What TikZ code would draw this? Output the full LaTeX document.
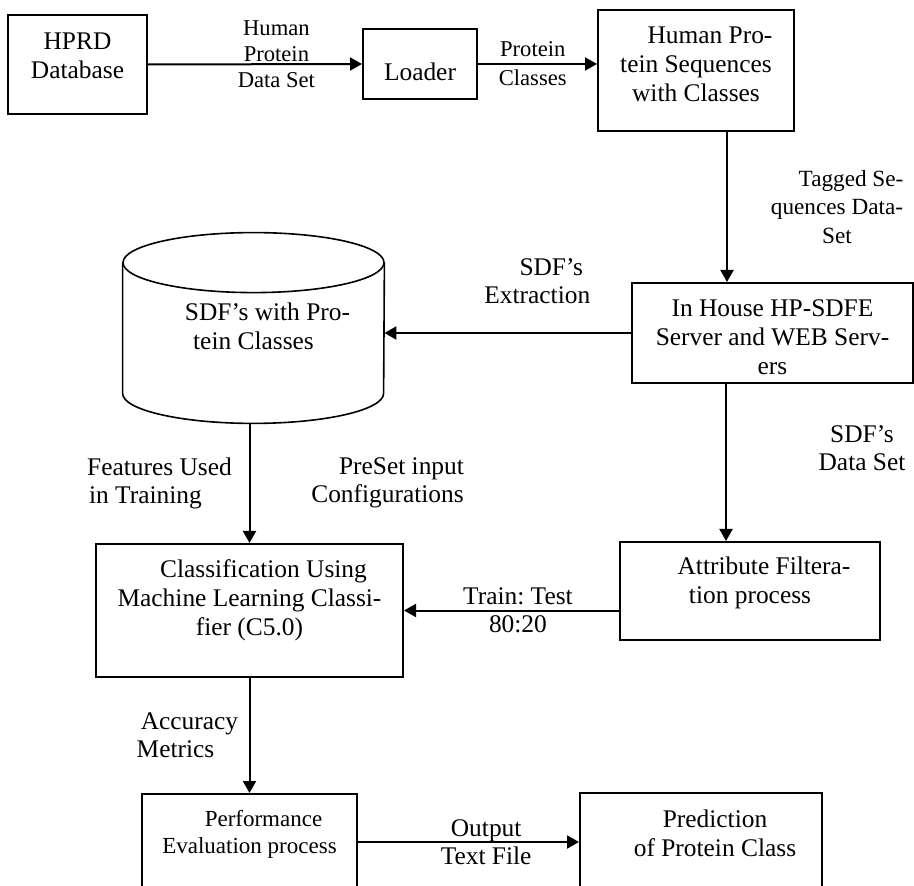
\documentclass[tikz,border=0pt]{standalone}
\usepackage{fontspec}
\setmainfont{Liberation Serif}
\usetikzlibrary{arrows.meta,positioning}

% box text: a centred block lifted by #1, the box keeps its size
\newcommand{\boxtext}[2]{\raisebox{#1}[\height][\depth]{\begin{tabular}{@{}c@{}}#2\end{tabular}}}
\newcommand{\ind}{\hspace*{14pt}}

\begin{document}
\begin{tikzpicture}[x=0.5pt, y=-0.5pt,
    font=\fontsize{12.7}{14.5}\selectfont,
    box/.style={rectangle, draw, line width=1pt, inner sep=0pt},
    lbl/.style={align=center, inner sep=0pt, font=\fontsize{12.7}{14}\selectfont},
    flow/.style={->, line width=1pt},
    drumcap/.style={x radius=65.25pt, y radius=15pt},
    >={Triangle[length=6pt, width=6.5pt]}]
    \clip (0,0) rectangle (914,886);

    % boxes
    \node[box, minimum width=69.5pt, minimum height=49.5pt] (hprd) at (77.5,64.5) {\boxtext{2.9pt}{HPRD\\Database}};
    \node[box, minimum width=57pt, minimum height=35pt] (loader) at (420,64) {\boxtext{-5.4pt}{Loader}};
    \node[box, minimum width=98pt, minimum height=60.5pt] (humanseq) at (696,70.5) {\boxtext{1.9pt}{\ind Human Pro-\\tein Sequences\\with Classes}};
    \node[box, minimum width=140.5pt, minimum height=50pt] (hpsdfe) at (772.5,333) {\boxtext{-3.2pt}{In House HP-SDFE\\Server and WEB Serv-\\ers}};
    \node[box, minimum width=153.5pt, minimum height=66.5pt] (classif) at (249.5,610.5) {\boxtext{4.7pt}{\ind Classification Using\\Machine Learning Classi-\\fier (C5.0)}};
    \node[box, minimum width=130pt, minimum height=49pt] (attrib) at (750,591) {\boxtext{3.9pt}{\ind Attribute Filtera-\\tion process}};
    \node[box, minimum width=107.5pt, minimum height=48pt, font=\fontsize{11.5}{13.3}\selectfont] (perf) at (249.5,842) {\boxtext{3.8pt}{\ind Performance\\Evaluation process}};
    \node[box, minimum width=121pt, minimum height=49pt] (pred) at (701,842) {\boxtext{3pt}{\ind Prediction\\\ind of Protein Class}};

    % data store: a plain node, with the drum outline drawn round it
    \node[inner sep=0pt, minimum width=130.5pt, minimum height=95pt] (sdf) at (253.5,328) {\boxtext{-0.4pt}{\ind SDF's with Pro-\\tein Classes}};
    \draw[line width=0.8pt] ([yshift=-15pt]sdf.north) ellipse [drumcap];
    \draw[line width=0.8pt] ([yshift=-15pt]sdf.north west) -- ([yshift=15pt]sdf.south west)
        arc [start angle=180, end angle=360, drumcap] -- ([yshift=-15pt]sdf.north east);

    % connectors
    \draw[flow] (hprd.east) -- node[lbl, pos=0.6, yshift=5pt, font=\fontsize{11.3}{13.2}\selectfont] (hpdata) {Human\\Protein\\Data Set} (loader.west);
    \draw[flow] (loader.east) -- node[lbl, pos=0.46, font=\fontsize{11.3}{14.5}\selectfont] (pclass) {Protein\\Classes} (loader.east -| humanseq.west);
    \draw[flow] ([xshift=15.5pt]humanseq.south) -- node[lbl, midway, xshift=55pt, font=\fontsize{11.6}{14.2}\selectfont] (tagged) {\ind Tagged Se-\\quences Data-\\Set} ([xshift=15.5pt]humanseq.south |- hpsdfe.north);
    \draw[flow] (hpsdfe.west) -- node[lbl, pos=0.38, yshift=26pt] (extract) {\ind SDF's\\Extraction} (hpsdfe.west -| sdf.east);
    \draw[flow] ([xshift=-12pt]attrib.north |- hpsdfe.south) -- node[lbl, pos=0.41, xshift=68pt] (sdfdata) {SDF's\\Data Set} ([xshift=-12pt]attrib.north);
    \draw[flow] (classif.north |- sdf.south) -- node[lbl, midway, xshift=-52pt] (features) {\ind Features Used\\in Training}
        node[lbl, midway, xshift=69pt] (preset) {\ind PreSet input\\Configurations} (classif.north);
    \draw[flow] (attrib.west |- classif.east) -- node[lbl, pos=0.47] (split) {Train:\ Test\\80:20} (classif.east);
    \draw[flow] (classif.south) -- node[lbl, midway, xshift=-37pt] (acc) {\ind Accuracy\\Metrics} (perf.north);
    \draw[flow] (perf.east) -- node[lbl, pos=0.58] (output) {Output\\Text File} (pred.west);
\end{tikzpicture}
\end{document}
